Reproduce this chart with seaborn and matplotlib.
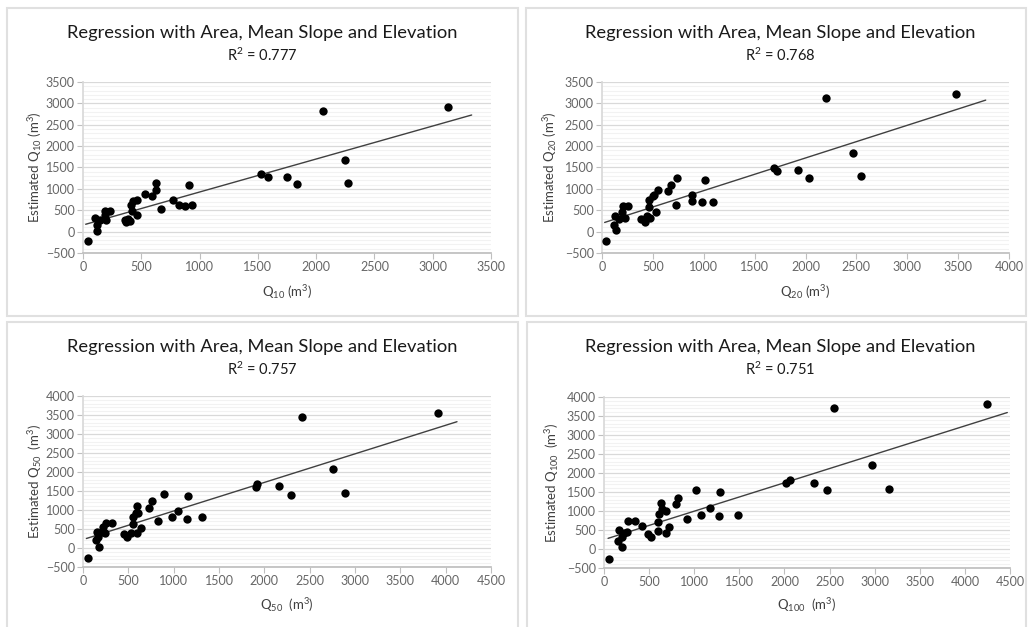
import numpy as np
import matplotlib
matplotlib.use("Agg")
import matplotlib.pyplot as plt
from matplotlib.patches import Rectangle
from matplotlib.ticker import MultipleLocator
import seaborn as sns

q10_obs = [43, 106, 123, 123, 143, 186, 194, 229, 190, 357, 371, 386, 400, 414, 429, 420,
           463, 463, 529, 594, 629, 629, 666, 771, 820, 877, 906, 937, 1528, 1583, 1746,
           1840, 2061, 2244, 2270, 3134]
q10_est = [-225, 320, 25, 165, 280, 475, 280, 490, 400, 280, 218, 296, 240, 630, 710, 475,
           750, 400, 880, 825, 1140, 965, 540, 750, 630, 590, 1090, 625, 1348, 1270, 1270,
           1122, 2814, 1668, 1145, 2915]

q20_obs = [36, 125, 120, 140, 165, 200, 230, 210, 255, 380, 420, 440, 475, 460, 465, 500,
           515, 535, 550, 645, 675, 735, 730, 885, 885, 980, 1015, 1095, 1695, 1720, 1930,
           2030, 2205, 2470, 2545, 3475]
q20_est = [-225, 375, 165, 40, 300, 470, 330, 590, 590, 300, 220, 360, 320, 750, 570, 825,
           860, 450, 965, 940, 1090, 1265, 615, 865, 710, 695, 1215, 695, 1490, 1425, 1440,
           1245, 3115, 1840, 1300, 3220]

q50_obs = [50, 140, 150, 175, 165, 220, 245, 255, 315, 205, 450, 480, 525, 550, 550, 600,
           590, 610, 600, 635, 730, 765, 830, 890, 985, 1050, 1150, 1160, 1315, 1905, 1915,
           2165, 2295, 2410, 2755, 2895, 3920]
q50_est = [-270, 210, 430, 35, 300, 560, 400, 665, 665, 430, 370, 280, 405, 630, 825, 1105,
           930, 915, 385, 520, 1050, 1245, 720, 1420, 805, 965, 770, 1370, 805, 1595, 1675,
           1620, 1395, 3455, 2070, 1455, 3560]

q100_obs = [50, 150, 165, 195, 200, 225, 260, 270, 345, 425, 485, 520, 595, 595, 605, 630,
            640, 690, 690, 715, 800, 820, 920, 1015, 1075, 1170, 1275, 1290, 1490, 2020, 2065,
            2325, 2470, 2545, 2970, 3160, 4250]
q100_est = [-265, 220, 500, 310, 45, 420, 440, 730, 730, 615, 395, 310, 485, 705, 925, 1205,
            1055, 1010, 420, 590, 1185, 1345, 790, 1555, 905, 1075, 870, 1495, 905, 1740, 1820,
            1740, 1540, 3720, 2215, 1575, 3825]

# x extent of each trendline
trend_x10 = [23, 3334]
trend_x20 = [26, 3771]
trend_x50 = [37, 4125]
trend_x100 = [45, 4470]

r2_values = ["0.777", "0.768", "0.757", "0.751"]
sub_labels = ["10", "20", "50", "100"]
x_max = [3500, 4000, 4500, 4500]
y_max = [3500, 3500, 4000, 4000]

W, H = 1028, 627
GRID = "#d9d9d9"
MINOR = "#f2f2f2"
TICK_C = "#666666"

sns.set_theme(style="white")
plt.rcParams.update({
    "font.family": ["Lato", "DejaVu Sans"],
    "mathtext.default": "regular",
    "mathtext.fontset": "custom",
    "mathtext.rm": "Lato",
})


def fx(px):
    return px / W


def fy(py):
    return 1 - py / H


fig = plt.figure(figsize=(W / 100, H / 100), dpi=100)
fig.patch.set_facecolor("white")

# chart frames (left, top, right, bottom) in pixels
frames = [(7, 8, 518, 316), (526, 8, 1026, 316), (7, 322, 518, 640), (527, 322, 1026, 640)]
for l, t, r, b in frames:
    fig.add_artist(Rectangle((fx(l), fy(b)), (r - l) / W, (b - t) / H,
                             transform=fig.transFigure, fill=False,
                             edgecolor="#e0e0e0", lw=1.5))

boxes = [(83, 82, 491, 253), (602, 82, 1009, 253), (83, 396, 491, 567), (604, 397, 1010, 568)]
series = [(q10_obs, q10_est, trend_x10), (q20_obs, q20_est, trend_x20),
          (q50_obs, q50_est, trend_x50), (q100_obs, q100_est, trend_x100)]

for i, ((l, t, r, b), (xs, ys, tx)) in enumerate(zip(boxes, series)):
    ax = fig.add_axes([fx(l), fy(b), (r - l) / W, (b - t) / H])
    ax.set_facecolor("white")

    xs = np.array(xs, dtype=float)
    ys = np.array(ys, dtype=float)
    slope, icpt = np.polyfit(xs, ys, 1)
    tx = np.array(tx, dtype=float)
    sns.lineplot(x=tx, y=slope * tx + icpt, ax=ax, color="#404040", lw=1.0, zorder=3)
    sns.scatterplot(x=xs, y=ys, ax=ax, color="black", s=36, edgecolor="black",
                    linewidth=0, zorder=4)

    ax.set_xlim(0, x_max[i])
    ax.set_ylim(-500, y_max[i])
    ax.xaxis.set_major_locator(MultipleLocator(500))
    ax.yaxis.set_major_locator(MultipleLocator(500))
    ax.yaxis.set_minor_locator(MultipleLocator(100))
    ax.grid(which="major", axis="y", color=GRID, lw=0.9, zorder=0)
    ax.grid(which="minor", axis="y", color=MINOR, lw=0.8, zorder=0)
    ax.grid(which="major", axis="x", visible=False)
    ax.set_axisbelow(True)

    for side in ["top", "right"]:
        ax.spines[side].set_visible(False)
    ax.spines["left"].set_color(GRID)
    ax.spines["bottom"].set_color("#bfbfbf")
    ax.tick_params(which="major", direction="out", length=4, width=0.8,
                   color="#bfbfbf", labelsize=9, labelcolor=TICK_C, pad=2,
                   bottom=True, left=True)
    ax.tick_params(which="minor", length=0)

    sub = sub_labels[i]
    gap = "  " if i >= 2 else " "
    ax.set_xlabel(f"Q$_{{{sub}}}${gap}(m$^3$)", fontsize=9.5, color="#404040", va="center")
    ax.set_ylabel(f"Estimated Q$_{{{sub}}}${gap}(m$^3$)", fontsize=9.5, color="#404040",
                  va="center")
    ax.xaxis.set_label_coords(0.5, (b - 292) / (b - t) if i < 2 else (b - 605) / (b - t))
    ax.yaxis.set_label_coords(-48 / (r - l) if i % 2 == 0 else -52 / (r - l), 0.5)

    # titles
    cx = 262 if i % 2 == 0 else 780
    ty = 33 if i < 2 else 347
    fig.text(fx(cx), fy(ty), "Regression with Area, Mean Slope and Elevation",
             ha="center", va="center", fontsize=13.2, color="#1a1a1a")
    fig.text(fx(cx), fy(ty + 22), f"R$^2$ = {r2_values[i]}",
             ha="center", va="center", fontsize=10.5, color="#1a1a1a")

fig.savefig("out.png", dpi=100)
